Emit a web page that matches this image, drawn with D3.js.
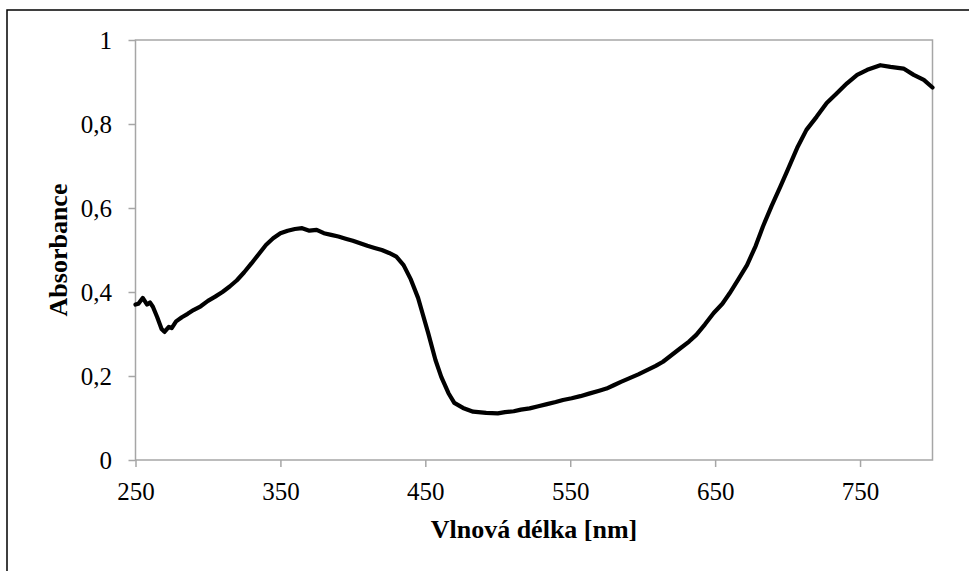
<!DOCTYPE html>
<html>
<head>
<meta charset="utf-8">
<script src="https://cdn.jsdelivr.net/npm/d3@7"></script>
<style>
  body { margin: 0; background: #fff; }
  svg { display: block; }
  svg text { font-family: "Liberation Serif", Tinos, "Times New Roman", "DejaVu Serif", serif !important; fill: #000; }
</style>
</head>
<body>
<div id="chart"></div>
<script>
// absorbance spectrum
const wavelengths = [250, 252, 255, 258, 260, 262, 265, 268, 270, 273, 275, 278, 282, 286, 290, 295, 300, 305, 310, 315,
  320, 325, 330, 335, 340, 345, 350, 355, 360, 365, 370, 375, 380, 385, 390, 395, 400, 405, 410, 415,
  420, 425, 430, 435, 440, 445, 448, 452, 457, 461, 466, 470, 476, 483, 492, 500, 505, 511, 516, 522,
  528, 534, 540, 545, 551, 557, 563, 570, 575, 580, 585, 591, 597, 603, 609, 614, 620, 626, 632, 637,
  643, 649, 655, 660, 666, 672, 678, 683, 689, 695, 700, 707, 713, 720, 727, 734, 741, 748, 755, 764,
  771, 780, 787, 794, 800];
const absorbance = [0.370, 0.372, 0.386, 0.370, 0.375, 0.365, 0.340, 0.312, 0.305, 0.317, 0.314, 0.330, 0.340, 0.348, 0.357, 0.366, 0.379, 0.389, 0.400, 0.413,
  0.428, 0.447, 0.468, 0.490, 0.512, 0.528, 0.540, 0.546, 0.550, 0.552, 0.546, 0.548, 0.540, 0.536, 0.532, 0.527, 0.522, 0.516, 0.510, 0.505,
  0.500, 0.493, 0.484, 0.464, 0.430, 0.386, 0.350, 0.302, 0.238, 0.198, 0.159, 0.136, 0.124, 0.115, 0.112, 0.111, 0.114, 0.116, 0.120, 0.123,
  0.128, 0.133, 0.138, 0.143, 0.147, 0.152, 0.158, 0.165, 0.170, 0.178, 0.186, 0.195, 0.204, 0.214, 0.224, 0.234, 0.250, 0.266, 0.282, 0.298,
  0.323, 0.350, 0.372, 0.397, 0.430, 0.464, 0.510, 0.556, 0.605, 0.651, 0.690, 0.746, 0.786, 0.817, 0.850, 0.873, 0.897, 0.917, 0.929, 0.940,
  0.936, 0.932, 0.917, 0.905, 0.887];
const xTicks = [250, 350, 450, 550, 650, 750];
const yTicks = [0, 0.2, 0.4, 0.6, 0.8, 1];

const width = 969, height = 571;
const margin = {top: 40, right: 36.5, bottom: 111, left: 135.5};

const data = wavelengths.map((w, i) => ({w: w, a: absorbance[i]}));

const svg = d3.select("#chart")
  .append("svg")
  .attr("width", width)
  .attr("height", height);

// outer frame (only left + top edge inside the picture)
svg.append("rect")
  .attr("x", 7).attr("y", 10)
  .attr("width", 1000).attr("height", 700)
  .attr("fill", "none")
  .attr("stroke", "#000")
  .attr("stroke-width", 1.5);

let xScale = d3.scaleLinear()
  .domain([250, 800])
  .range([margin.left, width - margin.right]);

let yScale = d3.scaleLinear()
  .domain([0, 1])
  .range([height - margin.bottom, margin.top]);

const czech = d3.formatLocale({decimal: ",", thousands: " ", grouping: [3], currency: ["", ""]});
const fmt = d3.format("");
const yFmt = d => d === 0 || d === 1 ? String(d) : czech.format(".1f")(d);

// plot area box
svg.append("rect")
  .attr("x", margin.left).attr("y", margin.top)
  .attr("width", xScale(800) - margin.left)
  .attr("height", yScale(0) - margin.top)
  .attr("fill", "none")
  .attr("stroke", "#a6a6a6")
  .attr("stroke-width", 1.5);

// x axis
const gx = svg.append("g")
  .attr("transform", `translate(0,${yScale(0)})`)
  .call(d3.axisBottom(xScale).tickValues(xTicks).tickSize(7).tickFormat(fmt))
  .attr("font-family", null);
gx.select(".domain").remove();
gx.selectAll("line").attr("stroke", "#a6a6a6").attr("stroke-width", 1.5);
gx.selectAll("text")
  .attr("y", 40).attr("dy", null)
  .attr("font-size", "25px");

// y axis
const gy = svg.append("g")
  .attr("transform", `translate(${margin.left},0)`)
  .call(d3.axisLeft(yScale).tickValues(yTicks).tickSize(7).tickPadding(16.5).tickFormat(yFmt))
  .attr("font-family", null);
gy.select(".domain").remove();
gy.selectAll("line").attr("stroke", "#a6a6a6").attr("stroke-width", 1.5);
gy.selectAll("text")
  .attr("font-size", "25px");

// axis titles
svg.append("text")
  .attr("x", (xScale(250) + xScale(800)) / 2)
  .attr("y", 538)
  .attr("text-anchor", "middle")
  .attr("font-size", "26px")
  .attr("font-weight", "bold")
  .text("Vlnová délka [nm]");

svg.append("text")
  .attr("transform", `translate(67,${(yScale(0) + yScale(1)) / 2}) rotate(-90)`)
  .attr("text-anchor", "middle")
  .attr("font-size", "26px")
  .attr("font-weight", "bold")
  .text("Absorbance");

// spectrum line
const line = d3.line()
  .x(d => xScale(d.w))
  .y(d => yScale(d.a));

svg.append("path")
  .datum(data)
  .attr("fill", "none")
  .attr("stroke", "#000")
  .attr("stroke-width", 4.2)
  .attr("stroke-linejoin", "round")
  .attr("stroke-linecap", "round")
  .attr("d", line);
</script>
</body>
</html>
